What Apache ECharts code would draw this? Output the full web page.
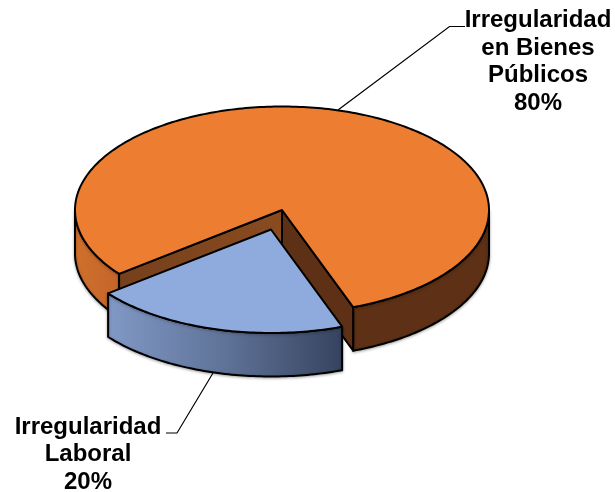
<!DOCTYPE html>
<html>
<head>
<meta charset="utf-8">
<style>html,body{margin:0;padding:0;background:#fff}#c{width:615px;height:492px}</style>
<script src="https://cdn.jsdelivr.net/npm/echarts@6/dist/echarts.min.js"></script>
</head>
<body>
<div id="c"></div>
<script>
var categories = ['Irregularidad\nen Bienes\nPúblicos', 'Irregularidad\nLaboral'];
var values = [80, 20];
var startAngles = [231.9, 159.9];
var offsetsX = [0, -11];
var offsetsY = [0, 19.5];
var labelX = [538, 88];
var labelY = [62, 454.5];
var leaderX = [[338, 449.5, 465], [213, 177, 166]];
var leaderY = [[110, 26.5, 26.5], [373, 433, 433]];

var CX = 282, CY = 210, RX = 207, RY = 103.5, DEPTH = 43.5;
var total = values.reduce(function (a, b) { return a + b; }, 0);
var OUT = { stroke: '#000', lineWidth: 2, lineJoin: 'round' };

function pt(cx, cy, deg, dz) {
  var r = deg * Math.PI / 180;
  return [cx + RX * Math.sin(r), cy - RY * Math.cos(r) + (dz || 0)];
}
function arc(cx, cy, a0, a1, dz) {
  var out = [], n = Math.max(2, Math.ceil(Math.abs(a1 - a0)));
  for (var i = 0; i <= n; i++) out.push(pt(cx, cy, a0 + (a1 - a0) * i / n, dz));
  return out;
}
function poly(points, fill) {
  return { type: 'polygon', shape: { points: points }, style: Object.assign({ fill: fill }, OUT) };
}
function wall(cx, cy, a0, a1, fill) {
  var w = poly(arc(cx, cy, a0, a1, 0).concat(arc(cx, cy, a1, a0, DEPTH)), fill);
  w.style.shadowBlur = 3;
  w.style.shadowColor = 'rgba(0,0,0,0.3)';
  w.style.shadowOffsetY = 1;
  return w;
}
function cut(cx, cy, a, fill) {
  var p = pt(cx, cy, a, 0);
  return poly([[cx, cy], p, [p[0], p[1] + DEPTH], [cx, cy + DEPTH]], fill);
}
function hGrad(stops) {
  return new echarts.graphic.LinearGradient(0, 0, 1, 0, stops.map(function (c, i) {
    return { offset: i / (stops.length - 1), color: c };
  }));
}
function face(cx, cy, a0, a1, fill) {
  return poly([[cx, cy]].concat(arc(cx, cy, a0, a1, 0)), fill);
}

function renderItem(params, api) {
  var i = params.dataIndex;
  var a0 = startAngles[i], a1 = a0 + api.value(0) / total * 360;
  var cx = CX + offsetsX[i], cy = CY + offsetsY[i];
  var children = [];
  if (i === 0) {
    var endA = a1 - 360;
    children.push(wall(cx, cy, a0, 270, hGrad(['#D0702C', '#C4652A'])));
    children.push(wall(cx, cy, 90, endA, '#5E3015'));
    children.push(cut(cx, cy, a0, hGrad(['#75401B', '#8A4B20'])));
    children.push(cut(cx, cy, endA, '#5E3015'));
    children.push(face(cx, cy, a0, a1, '#ED7D31'));
  } else {
    children.push(wall(cx, cy, a0, a1, hGrad(['#8199C6', '#5F7398', '#36435F'])));
    children.push(face(cx, cy, a0, a1, '#8FAADC'));
  }
  children.push({
    type: 'polyline',
    shape: { points: leaderX[i].map(function (x, k) { return [x, leaderY[i][k]]; }) },
    style: { stroke: '#000', lineWidth: 1.2, fill: null }
  });
  children.push({
    type: 'text',
    style: {
      text: categories[i] + '\n' + Math.round(api.value(0) / total * 100) + '%',
      x: labelX[i], y: labelY[i],
      align: 'center', verticalAlign: 'middle',
      font: 'bold 24px "Liberation Sans", Arial, sans-serif',
      lineHeight: 27.5, fill: '#000'
    }
  });
  return { type: 'group', children: children };
}

var chart = echarts.init(document.getElementById('c'), null, { renderer: 'canvas' });
chart.setOption({
  animation: false,
  backgroundColor: '#fff',
  series: [{
    type: 'custom',
    coordinateSystem: 'none',
    silent: true,
    renderItem: renderItem,
    data: values.map(function (v) { return [v]; })
  }]
});
</script>
</body>
</html>
